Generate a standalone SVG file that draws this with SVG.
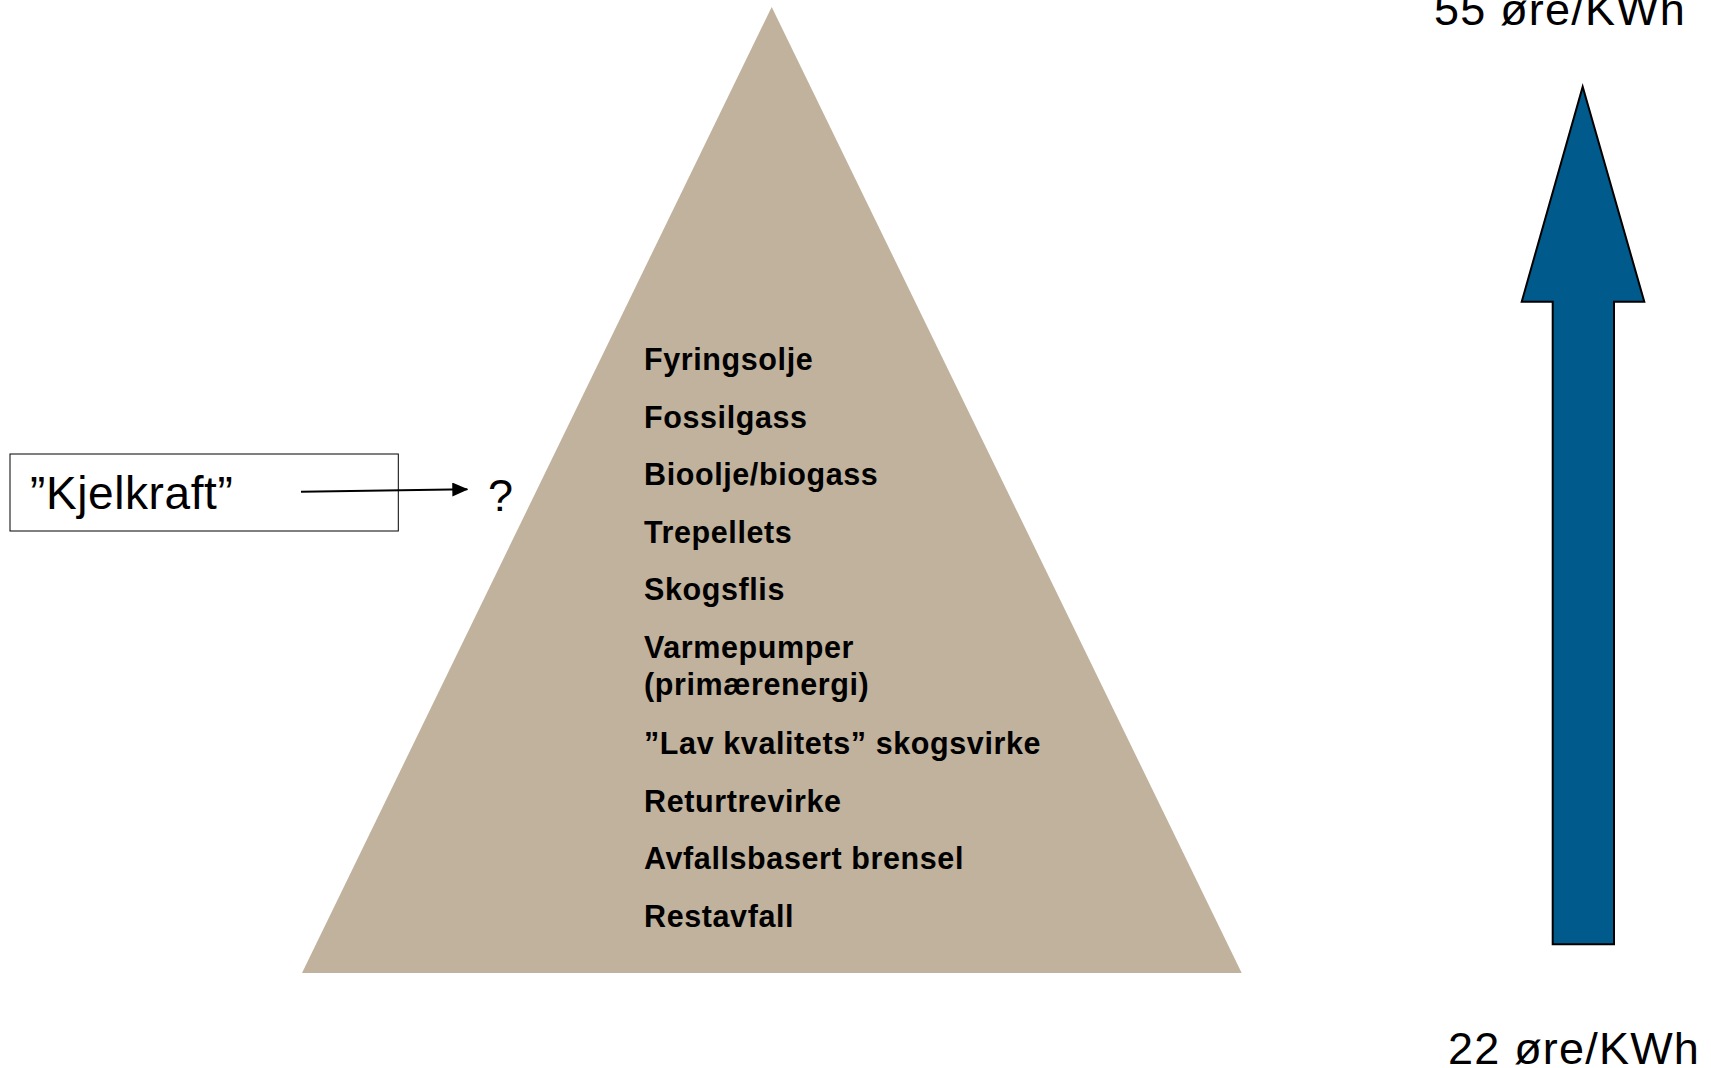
<svg xmlns="http://www.w3.org/2000/svg" width="1711" height="1068" viewBox="0 0 1711 1068">
<style>
.lvl{font-family:"Liberation Sans",Arial,sans-serif;font-weight:bold;font-size:30.5px;letter-spacing:0.6px;fill:#000}
.big{font-family:"Liberation Sans",Arial,sans-serif;font-size:45px;fill:#000}
</style>
<defs>
<marker id="ah" markerWidth="16" markerHeight="16" refX="15" refY="7" orient="auto" markerUnits="userSpaceOnUse">
<path d="M0,0 L16,7 L0,14 Z" fill="#000"/>
</marker>
</defs>
<rect width="1711" height="1068" fill="#fff"/>
<g id="pyramid">
<polygon points="771.7,7 1241.7,973 302,973" fill="#C0B29C"/>
<text class="lvl" x="644" y="370">Fyringsolje</text>
<text class="lvl" x="644" y="427.7">Fossilgass</text>
<text class="lvl" x="644" y="485">Bioolje/biogass</text>
<text class="lvl" x="644" y="542.5">Trepellets</text>
<text class="lvl" x="644" y="600">Skogsflis</text>
<text class="lvl" x="644" y="658">Varmepumper</text>
<text class="lvl" x="644" y="695">(primærenergi)</text>
<text class="lvl" x="644" y="754">”Lav kvalitets” skogsvirke</text>
<text class="lvl" x="644" y="811.7">Returtrevirke</text>
<text class="lvl" x="644" y="869.3">Avfallsbasert brensel</text>
<text class="lvl" x="644" y="926.7">Restavfall</text>
</g>
<g id="kjelkraft">
<rect x="10" y="454" width="388.3" height="77" fill="#fff" stroke="#000" stroke-width="1"/>
<text class="big" x="30" y="509" style="font-size:46px;letter-spacing:0.6px">”Kjelkraft”</text>
</g>
<g id="question">
<text class="big" x="488" y="510.7">?</text>
</g>
<g id="price-arrow">
<polygon points="1582.7,86.7 1644.3,301.7 1614,301.7 1614,944.3 1552.7,944.3 1552.7,301.7 1521.7,301.7" fill="#005A8B" stroke="#000" stroke-width="2" stroke-linejoin="miter"/>
<text class="big" x="1434" y="25" style="letter-spacing:1.2px">55 øre/KWh</text>
<text class="big" x="1448" y="1064" style="letter-spacing:1.2px">22 øre/KWh</text>
</g>
<g id="connectors">
<line x1="301" y1="491.7" x2="467.3" y2="489.3" stroke="#000" stroke-width="2" marker-end="url(#ah)"/>
</g>
</svg>
